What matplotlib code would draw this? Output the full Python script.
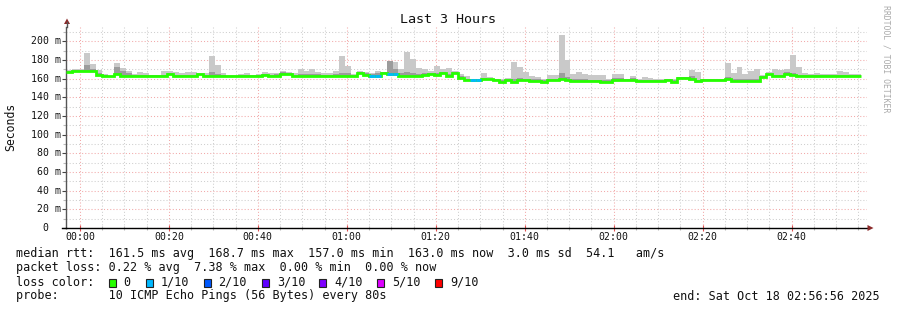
import numpy as np
import matplotlib
matplotlib.use("Agg")
import matplotlib.pyplot as plt
from matplotlib.patches import Polygon, Rectangle
from matplotlib.lines import Line2D
import matplotlib.transforms as mtrans

# ---------------- data ----------------
step_min = 80 / 60.0            # 80 s probe interval
start_min = -(3 + 4 / 60.0)     # 23:56:56 relative to 00:00
end_min = 176 + 56 / 60.0       # 02:56:56

median_ms = [
    167.5, 168.5, 168.5, 168.5, 168.5, 164.5, 163.0, 162.5, 165.0, 163.0,
    163.0, 163.0, 163.0, 163.0, 163.0, 163.0, 163.0, 165.5, 163.0, 163.0,
    163.0, 163.0, 165.0, 163.0, 163.0, 163.0, 163.0, 163.0, 163.0, 163.0,
    163.0, 163.0, 163.0, 164.5, 163.0, 163.0, 165.0, 165.0, 163.5, 163.0,
    163.0, 163.0, 163.0, 163.0, 163.0, 163.0, 163.0, 163.0, 163.0, 166.5,
    164.5, 163.5, 163.5, 166.0, 165.5, 165.5, 163.0, 163.0, 163.0, 163.0,
    164.0, 165.5, 164.5, 166.0, 163.5, 166.0, 160.5, 158.3, 158.3, 158.3,
    159.3, 159.3, 158.5, 157.0, 158.3, 157.0, 159.0, 158.3, 158.0, 158.0,
    157.0, 158.7, 158.7, 159.7, 159.0, 158.0, 158.0, 158.0, 157.3, 157.3,
    157.0, 157.0, 158.8, 159.0, 159.0, 158.3, 157.3, 157.3, 157.3, 157.3,
    157.3, 158.5, 157.0, 160.5, 160.5, 159.5, 157.3, 158.5, 158.5, 158.5,
    158.5, 159.3, 158.0, 158.0, 158.0, 158.0, 158.0, 162.0, 164.8, 163.0,
    163.0, 165.4, 164.0, 163.0, 163.0, 163.0, 163.0, 163.0, 163.0, 163.0,
    163.0, 163.0, 163.0, 163.0,
]

smoke_max_ms = [
    169.0, 170.0, 170.0, 187.5, 176.0, 169.5, 165.0, 163.5, 177.0, 171.5,
    168.0, 165.5, 167.0, 166.0, 164.5, 164.5, 168.0, 168.7, 167.0, 166.5,
    167.6, 167.0, 166.0, 166.0, 184.8, 175.0, 166.0, 163.7, 163.7, 165.0,
    166.0, 164.5, 165.3, 167.3, 165.7, 166.5, 168.7, 167.5, 166.5, 170.5,
    168.4, 170.5, 167.0, 166.0, 166.5, 168.7, 184.4, 173.7, 165.0, 168.7,
    167.6, 166.6, 168.7, 167.0, 179.4, 178.0, 170.5, 188.7, 181.0, 171.6,
    170.5, 168.4, 173.7, 170.5, 171.6, 168.4, 165.0, 163.0, 159.5, 159.5,
    166.5, 161.6, 159.5, 159.5, 161.0, 178.4, 173.0, 167.6, 163.0, 161.6,
    159.6, 164.0, 164.0, 207.0, 180.0, 164.8, 167.3, 165.5, 164.0, 164.0,
    164.0, 159.6, 165.5, 165.5, 160.0, 163.0, 159.6, 161.8, 160.3, 159.6,
    159.6, 159.6, 159.6, 161.0, 162.3, 169.4, 167.3, 160.0, 160.0, 160.0,
    160.0, 177.0, 166.6, 172.6, 165.0, 168.7, 170.5, 164.0, 167.6, 170.5,
    169.4, 170.8, 185.5, 173.0, 166.6, 165.5, 166.0, 164.8, 164.8, 164.8,
    168.4, 167.3, 165.0, 165.0,
]

smoke_hi_ms = [
    168.5, 169.5, 169.5, 175.0, 170.0, 166.0, 164.0, 163.5, 172.5, 168.0,
    166.0, 164.0, 164.0, 164.0, 164.0, 164.0, 164.5, 166.5, 164.0, 164.0,
    164.5, 164.0, 165.5, 164.0, 167.0, 165.0, 164.0, 163.5, 163.5, 164.0,
    164.0, 164.0, 164.0, 165.5, 164.5, 165.5, 167.5, 166.0, 164.5, 165.0,
    165.0, 165.0, 165.0, 164.0, 164.5, 165.0, 166.5, 166.0, 164.0, 167.0,
    166.0, 165.0, 166.0, 167.0, 179.0, 170.0, 166.0, 167.0, 166.0, 165.0,
    166.0, 166.5, 166.0, 167.5, 165.0, 167.5, 163.0, 160.0, 159.5, 159.5,
    161.0, 160.0, 159.5, 158.5, 159.5, 160.0, 160.5, 160.0, 159.5, 159.5,
    158.5, 160.0, 160.0, 166.0, 162.0, 160.0, 160.0, 160.0, 159.0, 159.0,
    158.5, 158.5, 160.5, 161.0, 160.0, 161.0, 158.5, 159.0, 159.0, 158.5,
    158.5, 159.5, 158.5, 162.0, 162.0, 163.0, 159.0, 159.5, 159.5, 159.5,
    159.5, 162.0, 160.0, 160.0, 159.5, 160.0, 160.0, 163.0, 165.5, 164.0,
    164.5, 167.0, 166.0, 164.5, 164.0, 164.0, 164.0, 164.0, 164.0, 164.0,
    164.0, 164.0, 164.0, 164.0,
]

# lost pings out of 10 per probe round
loss_count = [0] * 134
for k in (51, 52, 54, 55, 68, 69):
    loss_count[k] = 1

loss_labels = ["0", "1/10", "2/10", "3/10", "4/10", "5/10", "9/10"]
loss_colors = ["#26ff00", "#00b8ff", "#0059ff", "#5e00ff", "#7e00ff", "#dd00ff", "#ff0000"]
loss_level_of_count = {0: 0, 1: 1, 2: 2, 3: 3, 4: 4, 5: 5}

x_tick_pos = [0, 20, 40, 60, 80, 100, 120, 140, 160]
x_tick_labels = ["00:00", "00:20", "00:40", "01:00", "01:20", "01:40", "02:00", "02:20", "02:40"]
y_tick_vals = [0, 20, 40, 60, 80, 100, 120, 140, 160, 180, 200]

stats_line1 = "median rtt:  161.5 ms avg  168.7 ms max  157.0 ms min  163.0 ms now  3.0 ms sd  54.1   am/s"
stats_line2 = "packet loss: 0.22 % avg  7.38 % max  0.00 % min  0.00 % now"
probe_line = "probe:       10 ICMP Echo Pings (56 Bytes) every 80s"
end_line = "end: Sat Oct 18 02:56:56 2025"
title = "Last 3 Hours"

# ---------------- figure ----------------
W, H = 897, 310
DPI = 100
MONO = "DejaVu Sans Mono"
plt.rcParams["font.family"] = MONO

fig = plt.figure(figsize=(W / DPI, H / DPI), dpi=DPI)
fig.patch.set_facecolor("white")

def fx(px):
    return px / W

def fy(py):
    return 1 - py / H

ax_left, ax_right, ax_top, ax_bot = 66.3, 867.0, 27.0, 228.0
ax = fig.add_axes([fx(ax_left), fy(ax_bot), fx(ax_right - ax_left), (ax_bot - ax_top) / H])
ax.set_facecolor("white")

n = len(median_ms)
edges = start_min + step_min * np.arange(n + 1)
med = np.array(median_ms)
smax = np.array(smoke_max_ms)
shi = np.array(smoke_hi_ms)

# grid (ticks first, limits afterwards so ticks don't widen the view)
ax.set_xticks(x_tick_pos)
ax.set_xticks(np.arange(0, 180, 5), minor=True)
ax.set_yticks(y_tick_vals)
ax.set_yticks(np.arange(0, 216, 10), minor=True)
ax.grid(which="major", color="#f2a9a9", linestyle=(0, (1, 2)), linewidth=0.75)
ax.grid(which="minor", color="#cfcfcf", linestyle=(0, (1, 2)), linewidth=0.75)
ax.set_axisbelow(True)

# smoke
ax.bar(edges[:-1], smax - med, width=step_min, bottom=med, align="edge",
       color="#c9c9c9", linewidth=0, zorder=2)
ax.bar(edges[:-1], shi - med, width=step_min, bottom=med, align="edge",
       color="#9c9c9c", linewidth=0, zorder=2.1)

# median line
ax.stairs(med, edges, baseline=None, color=loss_colors[0], linewidth=2.0, zorder=3)
for k in range(n):
    if loss_count[k] > 0:
        c = loss_colors[loss_level_of_count[loss_count[k]]]
        ax.hlines(med[k], edges[k], edges[k + 1], color=c, linewidth=2.0, zorder=3.1)

ax.set_xlim(start_min, end_min)
ax.set_ylim(0, 215.5)

# spines / ticks
for s in ("top", "right"):
    ax.spines[s].set_visible(False)
ax.spines["left"].set_color("#555555")
ax.spines["left"].set_linewidth(1.0)
ax.spines["bottom"].set_color("#000000")
ax.spines["bottom"].set_linewidth(1.0)
ax.tick_params(axis="y", which="major", length=3, width=0.8, color="#444444", labelleft=False)
ax.tick_params(axis="y", which="minor", length=2, width=0.8, color="#bbbbbb", labelleft=False)
ax.tick_params(axis="x", which="major", direction="inout", length=4, width=0.8, color="#e05050", labelbottom=False)
ax.tick_params(axis="x", which="minor", direction="inout", length=3, width=0.8, color="#bbbbbb", labelbottom=False)

# tick labels (RRDtool style)
blend_y = mtrans.blended_transform_factory(fig.transFigure, ax.transData)
for v in y_tick_vals:
    lab = f"{v:3d} m" if v else "  0"
    fig.text(fx(30.5), v, lab, transform=blend_y, ha="left", va="center",
             fontsize=7.1, color="#111111", family=MONO)
blend_x = mtrans.blended_transform_factory(ax.transData, fig.transFigure)
for p, lab in zip(x_tick_pos, x_tick_labels):
    fig.text(p, fy(237.5), lab, transform=blend_x, ha="center", va="center",
             fontsize=7.1, color="#111111", family=MONO)

# axis extensions and arrows
arrow_c = "#8b2a2a"
fig.add_artist(Line2D([fx(67), fx(67)], [fy(ax_top), fy(22)], color="#555555", lw=1.0))
fig.add_artist(Polygon([[fx(64), fy(24)], [fx(70), fy(24)], [fx(67), fy(18.5)]],
                       closed=True, color=arrow_c, lw=0))
fig.add_artist(Line2D([fx(62), fx(ax_left)], [fy(228), fy(228)], color="#000000", lw=1.0))
fig.add_artist(Polygon([[fx(867.5), fy(225)], [fx(867.5), fy(231)], [fx(873.5), fy(228)]],
                       closed=True, color=arrow_c, lw=0))

# title / labels
fig.text(fx(448), fy(19.5), title, ha="center", va="center", fontsize=9.6, color="#111111")
fig.text(fx(11), fy(126.5), "Seconds", rotation=90, ha="center", va="center",
         fontsize=8.3, color="#111111")
fig.text(fx(886), fy(5), "RRDTOOL / TOBI OETIKER", rotation=-90, ha="center", va="top",
         fontsize=5.9, color="#aaaaaa")

# legend / stats text
fs = 8.5
fig.text(fx(16), fy(254), stats_line1, ha="left", va="center", fontsize=fs, color="#111111")
fig.text(fx(16), fy(268), stats_line2, ha="left", va="center", fontsize=fs, color="#111111")
fig.text(fx(16), fy(282), "loss color:", ha="left", va="center", fontsize=fs, color="#111111")
sq_x = [108.7, 146.0, 204.0, 261.7, 319.0, 377.3, 435.0]
lab_x = [123.0, 160.7, 218.0, 276.7, 334.0, 392.0, 450.0]
for sx, lx, lab, col in zip(sq_x, lab_x, loss_labels, loss_colors):
    fig.add_artist(Rectangle((fx(sx), fy(286.5)), fx(7), 8 / H, facecolor=col,
                             edgecolor="#222222", linewidth=0.8))
    fig.text(fx(lx), fy(282), lab, ha="left", va="center", fontsize=fs, color="#111111")
fig.text(fx(16), fy(296), probe_line, ha="left", va="center", fontsize=fs, color="#111111")
fig.text(fx(880), fy(296), end_line, ha="right", va="center", fontsize=fs, color="#111111")

fig.savefig("out.png", dpi=DPI, facecolor="white")
